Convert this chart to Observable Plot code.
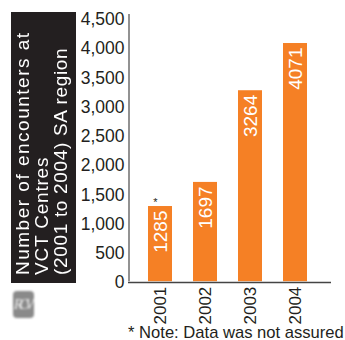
<!DOCTYPE html>
<html>
<head>
<meta charset="utf-8">
<script src="https://cdn.jsdelivr.net/npm/d3@7"></script>
<script src="https://cdn.jsdelivr.net/npm/@observablehq/plot@0.6"></script>
<style>
  html, body { margin: 0; background: #fff; }
  #chart { position: relative; width: 345px; height: 340px; overflow: hidden; font-family: "Liberation Sans", sans-serif; color: #231f20; }
  #side {
    position: absolute; left: 11px; top: 12px; width: 65px; height: 271px; box-sizing: border-box;
    background: #231f20; color: #fff; font-size: 19px; line-height: 19px;
    writing-mode: vertical-rl; transform: rotate(180deg); padding: 8px 2px 0 0; white-space: nowrap;
  }
  #side .a { letter-spacing: 1.5px; }
  #side .b { letter-spacing: 0.8px; }
  #side .c { letter-spacing: 0.67px; }
  #note { position: absolute; left: 128px; top: 325px; font-size: 16.6px; line-height: 15px; white-space: nowrap; }
  #badge {
    position: absolute; left: 13px; top: 291px; width: 21px; height: 27px; border-radius: 4px;
    background: #8a8a8a; color: #ececec; font: italic 15px/27px "Liberation Serif", serif; text-align: center;
    filter: blur(1px); letter-spacing: -4px; text-indent: -3px; overflow: hidden;
  }
  svg { position: absolute; left: 0; top: 0; }
</style>
</head>
<body>
<div id="chart">
  <div id="side"><span class="a">Number of encounters at</span><br><span class="b">VCT Centres</span><br><span class="c">(2001 to 2004) SA region</span></div>
  <div id="badge">RCV</div>
  <div id="note">* Note: Data was not assured</div>
</div>
<script>
const years = ["2001", "2002", "2003", "2004"];
const encounters = [1285, 1697, 3264, 4071];
const notAssured = ["2001"];
const yTicks = [0, 500, 1000, 1500, 2000, 2500, 3000, 3500, 4000, 4500];
const yAxisTop = 4567;
const rows = years.map((year, i) => ({year, value: encounters[i]}));
const ink = "#231f20";

const plot = Plot.plot({
  width: 345,
  height: 340,
  marginLeft: 128,
  marginRight: 14,
  marginTop: 14,
  marginBottom: 58.8,
  style: {fontFamily: "'Liberation Sans', sans-serif", background: "transparent", overflow: "visible"},
  x: {domain: years, range: [126, 330], padding: 0.4565, label: null},
  y: {domain: [0, yAxisTop], label: null},
  marks: [
    Plot.barY(rows, {x: "year", y: "value", fill: "#f58025"}),
    Plot.ruleX([0], {
      x: () => years[0], y1: 0, y2: yAxisTop, stroke: "#6e6e6e", strokeWidth: 1.5, dx: -31.5
    }),
    Plot.ruleY([0], {stroke: "#444", strokeWidth: 1.5, dy: 0.8}),
    Plot.axisY({
      ticks: yTicks, tickSize: 0, tickPadding: 4, tickFormat: d3.format(","),
      fontSize: 17.5, color: ink, label: null, anchor: "left", dy: 1
    }),
    Plot.axisX({
      tickSize: 0, tickPadding: 5, tickRotate: -90, fontSize: 17, color: ink, label: null,
      textAnchor: "end"
    }),
    Plot.text(rows, {
      x: "year", y: "value", text: d => String(d.value), rotate: -90,
      textAnchor: "end", lineAnchor: "middle", fill: "#fff", fontSize: 19, dy: 4
    }),
    Plot.text(rows.filter(d => notAssured.includes(d.year)), {
      x: "year", y: "value", text: () => "*", fontSize: 11, fill: ink,
      dx: -5, dy: -4, lineAnchor: "middle"
    })
  ]
});
document.getElementById("chart").appendChild(plot);
</script>
</body>
</html>
